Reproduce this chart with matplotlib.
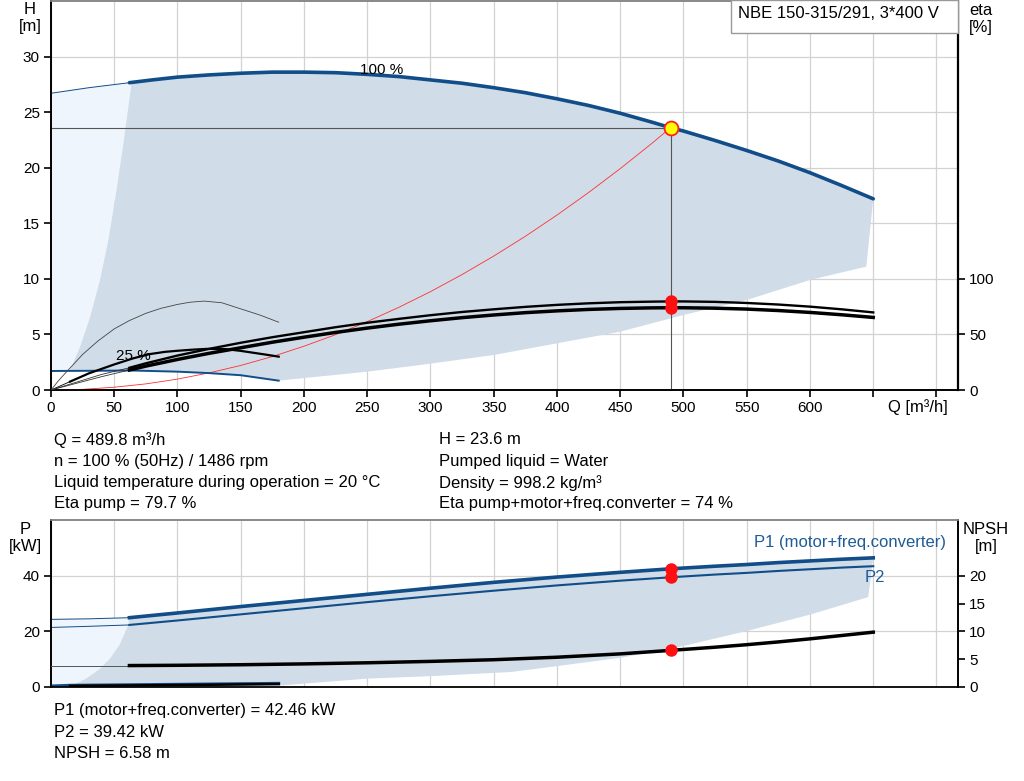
import matplotlib
matplotlib.use("Agg")
import matplotlib.pyplot as plt
from matplotlib.patches import Rectangle

plt.rcParams['font.family'] = ['Liberation Sans', 'DejaVu Sans']
plt.rcParams['font.size'] = 12

BLUE = '#114d88'
DARK_FILL = '#d0dce8'
LIGHT_FILL = '#eef5fc'
GRID = '#d2d2d2'

# duty point
q_op = 489.8
h_op = 23.6
eta_pump_op = 79.7
eta_tot_op = 74.0
p1_op = 42.46
p2_op = 39.42
npsh_op = 6.58

# H curve 100 %
q_h_thin = [0, 30, 62]
h_thin = [26.7, 27.2, 27.65]
q_h = [62, 80, 100, 125, 150, 175, 200, 225, 250, 275, 300, 325, 350, 375, 400,
       425, 450, 475, 489.8, 500, 525, 550, 575, 600, 625, 650]
h_100 = [27.65, 27.9, 28.15, 28.35, 28.5, 28.6, 28.6, 28.55, 28.4, 28.2, 27.9,
         27.6, 27.2, 26.75, 26.2, 25.6, 24.9, 24.1, 23.6, 23.3, 22.45, 21.55,
         20.6, 19.55, 18.4, 17.2]

# eta curves 100 % (percent)
q_eta_thin = [0, 20, 40, 62]
eta_pump_thin = [0, 7, 14, 20]
eta_tot_thin = [0, 6, 12, 18]
q_eta = [62, 75, 100, 125, 150, 175, 200, 225, 250, 275, 300, 325, 350, 375, 400,
         425, 450, 475, 489.8, 500, 525, 550, 575, 600, 625, 650]
eta_pump = [20, 24, 31, 37, 42.5, 47.5, 52, 56.5, 60.5, 64, 67.3, 70.2, 72.6,
            74.8, 76.6, 78.0, 79.0, 79.5, 79.7, 79.7, 79.3, 78.3, 76.9, 75.0,
            72.6, 69.8]
eta_tot = [18, 21.5, 27.5, 33, 38, 43, 47.5, 51.8, 55.7, 59.2, 62.3, 65.1, 67.5,
           69.6, 71.2, 72.5, 73.4, 73.9, 74.0, 74.0, 73.6, 72.8, 71.5, 69.8,
           67.7, 65.3]

# 25 % speed curves
q_25 = [0, 50, 62, 100, 125, 150, 180]
h_25 = [1.71, 1.74, 1.76, 1.65, 1.52, 1.33, 0.84]
q_25_thin = [0, 6, 12, 25, 37, 50, 62, 75, 87, 100, 110, 121, 135, 150, 165, 180]
eta_25_thin = [0, 8.5, 16, 32, 44, 55, 62.5, 69, 73.5, 77, 79, 80, 78.5, 73,
               67.5, 61]
q_25_eta = [15, 30, 50, 65, 78, 90, 100, 112, 123, 138, 150, 160, 170, 180]
eta_25 = [7.5, 15, 23, 28.5, 32.3, 34.3, 35.3, 36.3, 37, 36.8, 35.2, 33.5,
          31.8, 30]

# system curve
q_sys = [0, 25, 50, 75, 100, 125, 150, 175, 200, 225, 250, 275, 300, 325, 350,
         375, 400, 425, 450, 475, 489.8]
h_sys = [0, 0.06, 0.25, 0.55, 0.98, 1.54, 2.21, 3.01, 3.94, 4.98, 6.15, 7.44,
         8.85, 10.39, 12.05, 13.83, 15.74, 17.77, 19.92, 22.19, 23.6]

# operating range (top)
q_range_left = [15, 23, 31, 38.7, 45, 50.6, 57, 63.8]
h_range_left = [1.72, 3.9, 6.6, 9.9, 13.3, 17.1, 22.0, 27.7]
q_range_low = [644.5, 600, 550, 500, 450, 400, 350, 292, 250, 180]
h_range_low = [11.1, 9.9, 8.1, 6.75, 5.25, 4.2, 3.15, 2.25, 1.65, 0.84]

# power / NPSH curves
q_p_thin = [0, 30, 62]
p1_thin = [24.3, 24.5, 24.9]
p2_thin = [21.4, 21.8, 22.3]
q_p = [62, 100, 150, 200, 250, 300, 350, 400, 450, 489.8, 525, 550, 575, 600,
       625, 650]
p1 = [24.9, 26.6, 28.9, 31.1, 33.3, 35.5, 37.6, 39.5, 41.2, 42.46, 43.4, 44.0,
      44.7, 45.3, 45.9, 46.4]
p2 = [22.3, 23.9, 26.1, 28.3, 30.5, 32.6, 34.6, 36.5, 38.2, 39.42, 40.4, 41.0,
      41.7, 42.3, 42.9, 43.4]
npsh = [3.85, 3.9, 4.0, 4.15, 4.35, 4.6, 4.9, 5.35, 5.95, 6.58, 7.15, 7.6, 8.1,
        8.65, 9.25, 9.85]
q_npsh_thin = [0, 62]
npsh_thin = [3.85, 3.85]
q_p25 = [0, 15, 100, 180]
p1_25 = [0.35, 0.6, 0.95, 1.3]
q_p25b = [15, 100, 180]
p2_25 = [0.4, 0.7, 1.05]

# operating range (bottom)
q_prange_left = [12.4, 20, 28, 38, 46.6, 54, 61, 62]
p_prange_left = [0.3, 1.3, 3.1, 6.3, 10.2, 15.0, 22.1, 24.9]
q_prange_low = [646, 600, 549, 491, 450, 400, 364, 300, 250, 180]
p_prange_low = [32.3, 26.0, 20.0, 13.8, 10.5, 7.5, 5.4, 3.9, 3.0, 0.5]

xticks = list(range(0, 701, 50))
xlabels = [str(t) if t <= 600 else '' for t in xticks]

fig = plt.figure(figsize=(10.24, 7.81), dpi=100)
W, H = 1024, 781
ax = fig.add_axes([51 / W, 1 - 390 / H, 907 / W, 389 / H])
ax2 = ax.twinx()
bx = fig.add_axes([51 / W, 1 - 687 / H, 907 / W, 167 / H])
bx2 = bx.twinx()

# ---- top panel ----
light_q = [0] + q_h_thin + q_range_left[::-1] + [0]
light_h = [h_25[0]] + h_thin + h_range_left[::-1] + [h_25[0]]
ax.fill(light_q, light_h, color=LIGHT_FILL, lw=0, zorder=1)
dark_q = q_range_left + q_h[1:] + q_range_low + q_25[::-1][1:-1] + [15]
dark_h = h_range_left + h_100[1:] + h_range_low + h_25[::-1][1:-1] + [1.72]
ax.fill(dark_q, dark_h, color=DARK_FILL, lw=0, zorder=1)

ax.plot([0, q_op], [h_op, h_op], color='#555555', lw=0.8, zorder=3)
ax.plot([q_op, q_op], [0, h_op], color='#555555', lw=0.8, zorder=3)
ax.plot(q_sys, h_sys, color='#ff3030', lw=0.6, zorder=3)

ax.plot(q_h_thin, h_thin, color=BLUE, lw=0.7, zorder=4)
ax.plot(q_h, h_100, color=BLUE, lw=2.6, zorder=4, solid_capstyle='round')
ax.plot(q_25, h_25, color=BLUE, lw=1.4, zorder=4)

ax2.plot(q_25_thin, eta_25_thin, color='#444444', lw=0.6, zorder=4)
ax2.plot([0, 15], [0, 7.5], color='black', lw=0.6, zorder=4)
ax2.plot(q_25_eta, eta_25, color='black', lw=1.6, zorder=4)
ax2.plot(q_eta_thin, eta_pump_thin, color='#333333', lw=0.6, zorder=4)
ax2.plot(q_eta_thin, eta_tot_thin, color='#333333', lw=0.6, zorder=4)
ax2.plot(q_eta, eta_pump, color='black', lw=1.7, zorder=4)
ax2.plot(q_eta, eta_tot, color='black', lw=2.5, zorder=4)
ax2.plot([q_op, q_op], [eta_pump_op, eta_tot_op], 'o', color='#ff1010',
         ms=9, mew=0, zorder=6)
ax.plot([q_op], [h_op], 'o', ms=10, mfc='#ffff00', mec='#ff2020', mew=1.3, zorder=6)

ax.text(244, 28.8, '100 %', fontsize=11, va='center', ha='left', zorder=5)
ax.text(51.5, 3.1, '25 %', fontsize=11, va='center', ha='left', zorder=5)

ax.set_xlim(0, 717)
ax.set_ylim(0, 35)
ax2.set_ylim(0, 350)
ax.set_xticks(xticks)
ax.set_xticklabels(xlabels)
ax.set_yticks(range(0, 31, 5))
ax2.set_yticks([0, 50, 100])
ax.grid(True, color=GRID, lw=0.9)
ax.set_axisbelow(True)
ax.set_zorder(ax2.get_zorder() - 1)
ax2.patch.set_visible(False)

# ---- bottom panel ----
light_pq = [0, 0] + q_p_thin[1:] + q_prange_left[::-1] + [0]
light_p = [0, p1_thin[0]] + p1_thin[1:] + p_prange_left[::-1] + [0]
bx.fill(light_pq, light_p, color=LIGHT_FILL, lw=0, zorder=1)
dark_pq = q_prange_left + q_p[1:] + q_prange_low + [12.4]
dark_p = p_prange_left + p1[1:] + p_prange_low + [0.3]
bx.fill(dark_pq, dark_p, color=DARK_FILL, lw=0, zorder=1)

bx.plot(q_p_thin, p1_thin, color=BLUE, lw=0.7, zorder=4)
bx.plot(q_p_thin, p2_thin, color=BLUE, lw=0.7, zorder=4)
bx.plot(q_p, p1, color=BLUE, lw=2.6, zorder=4)
bx.plot(q_p, p2, color=BLUE, lw=1.5, zorder=4)
bx.plot(q_p25, p1_25, color=BLUE, lw=2.2, zorder=4)
bx.plot(q_p25b, p2_25, color='black', lw=1.8, zorder=4)
bx2.plot(q_npsh_thin, npsh_thin, color='#555555', lw=0.7, zorder=4)
bx2.plot(q_p, npsh, color='black', lw=2.5, zorder=4)
bx.plot([q_op, q_op], [p1_op, p2_op], 'o', color='#ff1010', ms=9, mew=0, zorder=6)
bx2.plot([q_op], [npsh_op], 'o', color='#ff1010', ms=9, mew=0, zorder=6)

fig.text(946 / W, 1 - 542 / H, 'P1 (motor+freq.converter)', color='#1f5b96',
         ha='right', va='center')
fig.text(865 / W, 1 - 577 / H, 'P2', color='#1f5b96', ha='left', va='center')

bx.set_xlim(0, 717)
bx.set_ylim(0, 60)
bx2.set_ylim(0, 30)
bx.set_xticks(xticks)
bx.set_xticklabels([])
bx.set_yticks([0, 20, 40])
bx2.set_yticks([0, 5, 10, 15, 20])
bx.grid(True, color=GRID, lw=0.9)
bx.set_axisbelow(True)
bx.set_zorder(bx2.get_zorder() - 1)
bx2.patch.set_visible(False)

for a in (ax, ax2, bx, bx2):
    a.tick_params(direction='out', length=5, width=1.2, labelsize=11, pad=3)
    for s in a.spines.values():
        s.set_linewidth(1.2)
    a.spines['top'].set_color('#888888')
ax.spines['right'].set_linewidth(1.6)
bx.spines['bottom'].set_color('#888888')
bx.tick_params(axis='x', length=0)

# axis titles
fig.text(30 / W, 1 - 18 / H, 'H\n[m]', ha='center', va='center', linespacing=1.2)
fig.text(981 / W, 1 - 19 / H, 'eta\n[%]', ha='center', va='center', linespacing=1.2)
fig.text(25 / W, 1 - 538 / H, 'P\n[kW]', ha='center', va='center', linespacing=1.2)
fig.text(986 / W, 1 - 538 / H, 'NPSH\n[m]', ha='center', va='center', linespacing=1.2)
fig.text(888 / W, 1 - 407 / H, 'Q [m³/h]', ha='left', va='center')

# header box
fig.patches.append(Rectangle((731 / W, 1 - 33 / H), 227 / W, 33 / H,
                             transform=fig.transFigure, facecolor='white',
                             edgecolor='#999999', lw=1.0, zorder=10))
fig.text(738 / W, 1 - 14 / H, 'NBE 150-315/291, 3*400 V', ha='left',
         va='center', zorder=11)

# info text
left_lines = ['Q = 489.8 m³/h', 'n = 100 % (50Hz) / 1486 rpm',
              'Liquid temperature during operation = 20 °C', 'Eta pump = 79.7 %']
right_lines = ['H = 23.6 m', 'Pumped liquid = Water', 'Density = 998.2 kg/m³',
               'Eta pump+motor+freq.converter = 74 %']
bottom_lines = ['P1 (motor+freq.converter) = 42.46 kW', 'P2 = 39.42 kW',
                'NPSH = 6.58 m']
for i, t in enumerate(left_lines):
    fig.text(54 / W, 1 - (440 + 21.3 * i) / H, t, ha='left', va='center')
for i, t in enumerate(right_lines):
    fig.text(439 / W, 1 - (440 + 21.3 * i) / H, t, ha='left', va='center')
for i, t in enumerate(bottom_lines):
    fig.text(54 / W, 1 - (711 + 21.3 * i) / H, t, ha='left', va='center')

fig.savefig('out.png', dpi=100)
